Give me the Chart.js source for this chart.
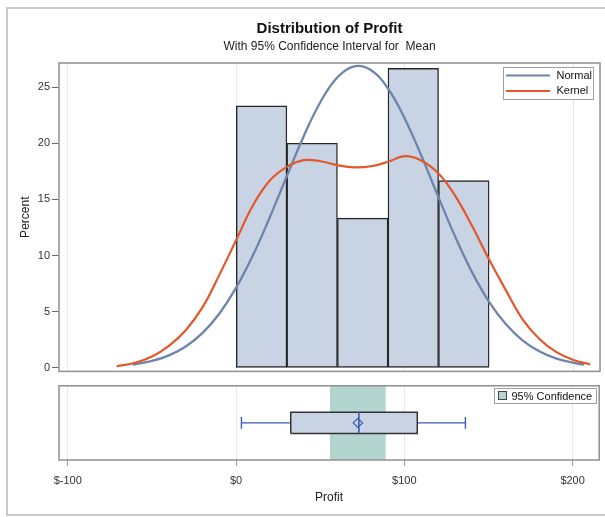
<!DOCTYPE html>
<html>
<head>
<meta charset="utf-8">
<script src="https://cdn.jsdelivr.net/npm/chart.js@4/dist/chart.umd.min.js"></script>
<style>
  html, body { margin: 0; padding: 0; background: #fff; }
  #wrap { position: relative; width: 605px; height: 517px; overflow: hidden; }
  #frame { position: absolute; left: 6px; top: 7px; width: 640px; height: 505px; border: 2px solid #cacaca; }
  #top { position: absolute; left: 0; top: 0; }
  #bot { position: absolute; left: 0; top: 380px; }
</style>
</head>
<body>
<div id="wrap">
  <div id="frame"></div>
  <canvas id="top" width="605" height="380"></canvas>
  <canvas id="bot" width="605" height="137"></canvas>
</div>
<script>
// ---- Profit distribution data ----
const TITLE = 'Distribution of Profit';
const SUBTITLE = 'With 95% Confidence Interval for  Mean';

// Histogram: bin midpoints ($) and percent of observations per bin
const BIN_MIDPOINTS = [15, 45, 75, 105, 135];
const BIN_PERCENT = [23.33, 20.0, 13.33, 26.67, 16.67];

// Fitted normal density (percent scale)
const NORMAL_X = [-61.5, -50, -40, -30, -20, -10, 0, 10, 20, 30, 40, 50, 60, 70, 80, 90, 100, 110, 120, 130, 140, 150, 160, 170, 180, 190, 200, 206.3];
const NORMAL_PCT = [0.29, 0.61, 1.11, 1.90, 3.11, 4.84, 7.16, 10.06, 13.45, 17.08, 20.63, 23.70, 25.88, 26.86, 26.51, 24.88, 22.19, 18.82, 15.18, 11.64, 8.48, 5.88, 3.88, 2.43, 1.45, 0.82, 0.44, 0.29];

// Kernel density estimate (percent scale)
const KERNEL_X = [-71, -60, -50, -40, -30, -20, -10, 0, 10, 20, 30, 40, 50, 60, 70, 80, 90, 100, 110, 120, 130, 140, 150, 160, 170, 180, 190, 200, 210];
const KERNEL_PCT = [0.14, 0.45, 1.0, 1.95, 3.35, 5.4, 8.3, 11.4, 14.5, 16.7, 17.9, 18.5, 18.4, 18.05, 17.85, 17.95, 18.35, 18.85, 18.45, 17.3, 15.3, 12.6, 9.65, 6.9, 4.3, 2.55, 1.4, 0.7, 0.3];

// Box plot summary and 95% confidence interval for the mean
const WHISKER_LOW = 3.2;
const Q1 = 32.5;
const MEDIAN = 73.0;
const MEAN = 72.4;
const Q3 = 107.7;
const WHISKER_HIGH = 136.3;
const CI_LOW = 55.8;
const CI_HIGH = 89.0;

// Axis ticks
const X_TICKS = [-100, 0, 100, 200];
const Y_TICKS = [0, 5, 10, 15, 20, 25];
const X_MIN = -105.2, X_MAX = 215.8;
const Y_MIN = -0.32, Y_MAX = 27.15;

// ---- styling / layout ----
const FONT = "'Liberation Sans', Arial, sans-serif";
Chart.defaults.font.family = FONT;
Chart.defaults.color = '#333';

const BAR_FILL = '#c8d3e3';
const BOX_BLUE = '#3c5cb6';
const NORMAL_COLOR = '#6d85ad';
const KERNEL_COLOR = '#e3572b';
const CI_COLOR = '#b3d5d0';
const FRAME_COLOR = '#8f8f8f';
const GRID_COLOR = '#e8e8e8';

// vertical placement of the box inside the lower panel (panel spans 0..1)
const BOX_CENTER = 0.5, BOX_HALF = 0.143, CAP_HALF = 0.078;

const pts = (xs, ys) => xs.map((x, i) => ({ x, y: ys[i] }));

const framePlugin = {
  id: 'frame',
  afterDatasetsDraw(chart) {
    const { ctx, chartArea: a } = chart;
    ctx.save();
    ctx.strokeStyle = FRAME_COLOR;
    ctx.lineWidth = 1.5;
    ctx.strokeRect(a.left, a.top, a.right - a.left, a.bottom - a.top);
    ctx.restore();
  }
};

const titlePlugin = {
  id: 'titles',
  afterDraw(chart) {
    const { ctx, chartArea: a } = chart;
    const cx = (a.left + a.right) / 2;
    ctx.save();
    ctx.fillStyle = '#111';
    ctx.textAlign = 'center';
    ctx.textBaseline = 'middle';
    ctx.font = 'bold 15px ' + FONT;
    ctx.fillText(TITLE, cx, 29);
    ctx.font = '12px ' + FONT;
    ctx.fillStyle = '#222';
    ctx.fillText(SUBTITLE, cx, 47);
    ctx.restore();
  }
};

// Legend box for the density curves, placed in the upper-right of the plot
const curveLegendPlugin = {
  id: 'curveLegend',
  afterDraw(chart) {
    const { ctx } = chart;
    const items = chart.data.datasets.filter(d => d.type === 'line');
    ctx.save();
    ctx.strokeStyle = '#a0a0a0';
    ctx.lineWidth = 1;
    ctx.fillStyle = '#fff';
    ctx.fillRect(503, 67.5, 90, 32);
    ctx.strokeRect(503.5, 67.5, 90, 32);
    ctx.font = '11px ' + FONT;
    ctx.textBaseline = 'middle';
    ctx.textAlign = 'left';
    items.forEach((d, i) => {
      const y = 75.5 + i * 15.5;
      ctx.strokeStyle = d.borderColor;
      ctx.lineWidth = 2;
      ctx.beginPath();
      ctx.moveTo(506, y);
      ctx.lineTo(550, y);
      ctx.stroke();
      ctx.fillStyle = '#111';
      ctx.fillText(d.label, 556.5, y);
    });
    ctx.restore();
  }
};

// Legend for the confidence band in the lower panel
const ciLegendPlugin = {
  id: 'ciLegend',
  afterDraw(chart) {
    const { ctx } = chart;
    const band = chart.data.datasets.find(d => d.label === '95% Confidence');
    ctx.save();
    ctx.fillStyle = '#fff';
    ctx.fillRect(494, 8.5, 102, 15);
    ctx.strokeStyle = '#a0a0a0';
    ctx.lineWidth = 1;
    ctx.strokeRect(494.5, 8.5, 102, 15);
    ctx.fillStyle = band.backgroundColor;
    ctx.fillRect(498.5, 11.5, 8, 8);
    ctx.strokeStyle = '#444';
    ctx.strokeRect(498.5, 11.5, 8, 8);
    ctx.font = '11px ' + FONT;
    ctx.fillStyle = '#111';
    ctx.textBaseline = 'middle';
    ctx.fillText(band.label, 511.5, 16.5);
    ctx.restore();
  }
};

const setTicks = list => scale => { scale.ticks = list.map(v => ({ value: v })); };

// ---- Upper panel: histogram with normal and kernel curves ----
new Chart(document.getElementById('top'), {
  type: 'bar',
  data: {
    datasets: [
      {
        type: 'line', label: 'Normal', data: pts(NORMAL_X, NORMAL_PCT),
        borderColor: NORMAL_COLOR, borderWidth: 2.3, pointRadius: 0,
        tension: 0.4, order: 1
      },
      {
        type: 'line', label: 'Kernel', data: pts(KERNEL_X, KERNEL_PCT),
        borderColor: KERNEL_COLOR, borderWidth: 2.2, pointRadius: 0,
        tension: 0.4, order: 0
      },
      {
        type: 'bar', label: 'Percent', data: pts(BIN_MIDPOINTS, BIN_PERCENT),
        backgroundColor: BAR_FILL, borderColor: '#262626', borderWidth: 1.4,
        borderSkipped: false, barPercentage: 1, categoryPercentage: 1, order: 2
      }
    ]
  },
  options: {
    responsive: false,
    animation: false,
    layout: { padding: { left: 0, top: 63, right: 5, bottom: 3 } },
    plugins: { legend: { display: false }, tooltip: { enabled: false } },
    scales: {
      x: {
        type: 'linear', min: X_MIN, max: X_MAX, offset: false,
        afterBuildTicks: setTicks(X_TICKS),
        ticks: { display: false },
        grid: { color: GRID_COLOR, drawTicks: false, offset: false },
        border: { display: false },
        afterFit: s => { s.height = 0; }
      },
      y: {
        type: 'linear', min: Y_MIN, max: Y_MAX,
        afterBuildTicks: setTicks(Y_TICKS),
        ticks: { font: { size: 11 }, color: '#333', padding: 2 },
        grid: { drawOnChartArea: false, tickLength: 7, tickColor: '#666' },
        border: { display: false },
        title: { display: true, text: 'Percent', font: { size: 12 }, color: '#222', padding: { top: 18, bottom: 0 } },
        afterFit: s => { s.width = 59; }
      }
    }
  },
  plugins: [framePlugin, titlePlugin, curveLegendPlugin]
});

// ---- Lower panel: box plot with 95% confidence band for the mean ----
const BOX_LO = BOX_CENTER - BOX_HALF, BOX_HI = BOX_CENTER + BOX_HALF;
const plain = { pointRadius: 0, borderColor: BOX_BLUE, borderWidth: 1.4, fill: false };

new Chart(document.getElementById('bot'), {
  type: 'line',
  data: {
    datasets: [
      {
        label: 'Mean', data: [{ x: MEAN, y: BOX_CENTER }], showLine: false,
        pointStyle: 'rectRot', pointRadius: 4.6, pointBorderColor: BOX_BLUE,
        pointBackgroundColor: 'rgba(0,0,0,0)', pointBorderWidth: 1.2, order: 0
      },
      { label: 'Median', data: [{ x: MEDIAN, y: BOX_LO }, { x: MEDIAN, y: BOX_HI }], ...plain, borderWidth: 1.6, order: 1 },
      {
        label: 'Box edge',
        data: [{ x: Q1, y: BOX_LO }, { x: Q3, y: BOX_LO }, { x: Q3, y: BOX_HI }, { x: Q1, y: BOX_HI }, { x: Q1, y: BOX_LO }],
        ...plain, borderColor: '#333', borderWidth: 1.5, order: 2
      },
      {
        label: 'Box', data: [{ x: Q1, y: BOX_HI }, { x: Q3, y: BOX_HI }],
        pointRadius: 0, borderColor: 'rgba(0,0,0,0)', backgroundColor: BAR_FILL,
        fill: { value: BOX_LO }, order: 3
      },
      { label: 'Lower whisker', data: [{ x: WHISKER_LOW, y: BOX_CENTER }, { x: Q1, y: BOX_CENTER }], ...plain, order: 4 },
      { label: 'Upper whisker', data: [{ x: Q3, y: BOX_CENTER }, { x: WHISKER_HIGH, y: BOX_CENTER }], ...plain, order: 4 },
      { label: 'Lower cap', data: [{ x: WHISKER_LOW, y: BOX_CENTER - CAP_HALF }, { x: WHISKER_LOW, y: BOX_CENTER + CAP_HALF }], ...plain, order: 4 },
      { label: 'Upper cap', data: [{ x: WHISKER_HIGH, y: BOX_CENTER - CAP_HALF }, { x: WHISKER_HIGH, y: BOX_CENTER + CAP_HALF }], ...plain, order: 4 },
      {
        label: '95% Confidence', data: [{ x: CI_LOW, y: 1 }, { x: CI_HIGH, y: 1 }],
        pointRadius: 0, borderColor: 'rgba(0,0,0,0)', backgroundColor: CI_COLOR,
        fill: 'origin', order: 9
      }
    ]
  },
  options: {
    responsive: false,
    animation: false,
    layout: { padding: { left: 0, top: 2, right: 5, bottom: 0 } },
    plugins: { legend: { display: false }, tooltip: { enabled: false } },
    scales: {
      x: {
        type: 'linear', min: X_MIN, max: X_MAX,
        afterBuildTicks: setTicks(X_TICKS),
        ticks: { callback: v => '$' + v, font: { size: 11 }, color: '#333', padding: 8, maxRotation: 0, autoSkip: false },
        grid: { color: GRID_COLOR, tickLength: 6, tickColor: '#9a9a9a' },
        border: { display: false },
        title: { display: true, text: 'Profit', font: { size: 12 }, color: '#222', padding: { top: 0, bottom: 12 } },
        afterFit: s => { s.height = 57; }
      },
      y: {
        type: 'linear', min: 0, max: 1,
        ticks: { display: false },
        grid: { display: false },
        border: { display: false },
        afterFit: s => { s.width = 59; }
      }
    }
  },
  plugins: [framePlugin, ciLegendPlugin]
});
</script>
</body>
</html>
